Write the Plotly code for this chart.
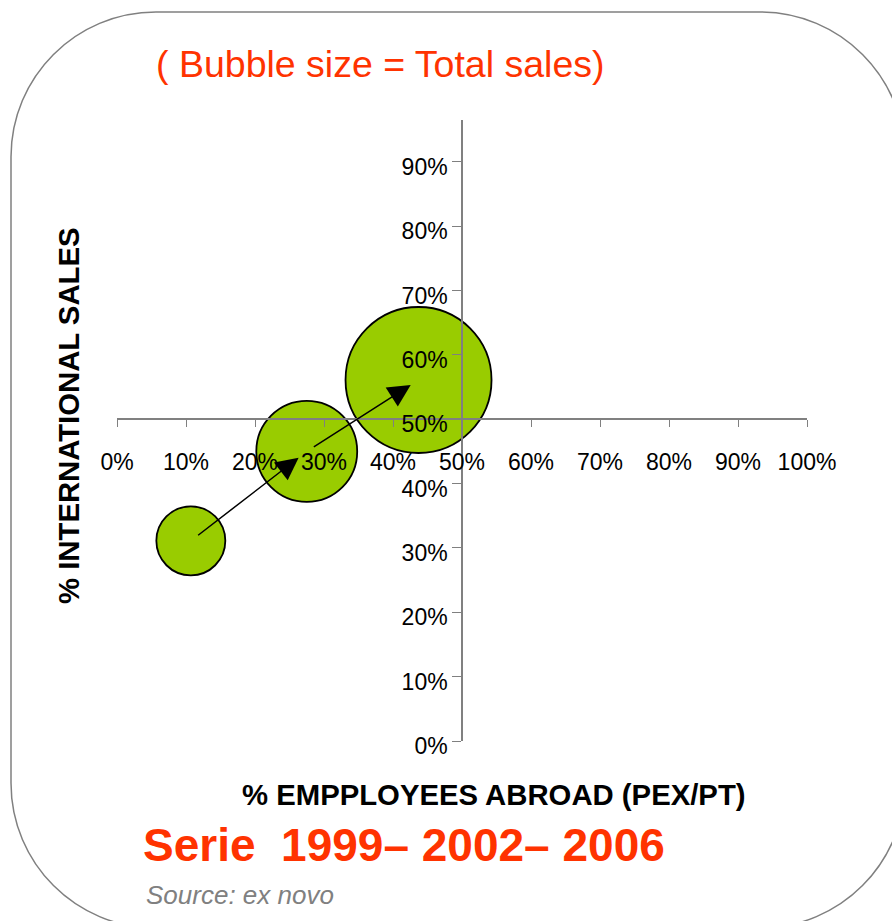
import plotly.graph_objects as go

# Bubble chart data: 1999, 2002, 2006
years = ["1999", "2002", "2006"]
employees_abroad = [10.7, 27.5, 43.7]      # % employees abroad (PEX/PT)
international_sales = [31.1, 45.0, 56.1]   # % international sales
total_sales = [100, 214, 448]              # bubble size = total sales

x_ticks = list(range(0, 101, 10))
x_tick_labels = [f"{v}%" for v in x_ticks]
y_ticks = list(range(0, 91, 10))
y_tick_labels = [f"{v}%" for v in y_ticks]

W, H = 892, 921
L, R, T, B = 117, 85, 120, 180
PW, PH = W - L - R, H - T - B
Y_MAX = 96.5


def pxx(px):
    return (px - L) / PW


def pxy(py):
    return (H - B - py) / PH


FONT = "Liberation Sans, Arial, sans-serif"
RED = "#FF3300"
GREY = "#808080"

fig = go.Figure()

fig.add_trace(go.Scatter(
    x=employees_abroad,
    y=international_sales,
    mode="markers",
    marker=dict(
        size=total_sales,
        sizemode="area",
        sizeref=2.0 * max(total_sales) / (146 ** 2),
        color="#99CC00",
        line=dict(color="black", width=1.8),
        opacity=1,
    ),
    text=years,
    hoverinfo="text",
    showlegend=False,
))

# arrows joining consecutive years
annotations = []
for i in range(len(years) - 1):
    x0, y0 = employees_abroad[i], international_sales[i]
    dx = employees_abroad[i + 1] - x0
    dy = international_sales[i + 1] - y0
    annotations.append(dict(
        x=x0 + 0.93 * dx, y=y0 + 0.93 * dy,
        ax=x0 + 0.05 * dx, ay=y0 + 0.05 * dy,
        xref="x", yref="y", axref="x", ayref="y",
        text="", showarrow=True,
        arrowhead=2, arrowsize=3, arrowwidth=1.5, arrowcolor="black",
    ))

annotations += [
    dict(text="( Bubble size = Total sales)", x=pxx(154), y=pxy(64),
         xref="paper", yref="paper", xanchor="left", yanchor="middle",
         showarrow=False, font=dict(family=FONT, size=37.5, color=RED)),
    dict(text="<b>% INTERNATIONAL SALES</b>", x=pxx(68), y=pxy(416),
         xref="paper", yref="paper", xanchor="center", yanchor="middle",
         textangle=-90, showarrow=False,
         font=dict(family=FONT, size=29.3, color="black")),
    dict(text="<b>% EMPPLOYEES ABROAD (PEX/PT)</b>", x=pxx(494), y=pxy(794),
         xref="paper", yref="paper", xanchor="center", yanchor="middle",
         showarrow=False, font=dict(family=FONT, size=29.3, color="black")),
    dict(text="<b>Serie&nbsp; 1999– 2002– 2006</b>", x=pxx(141), y=pxy(845),
         xref="paper", yref="paper", xanchor="left", yanchor="middle",
         showarrow=False, font=dict(family=FONT, size=46, color=RED)),
    dict(text="<i>Source: ex novo</i>", x=pxx(144), y=pxy(895),
         xref="paper", yref="paper", xanchor="left", yanchor="middle",
         showarrow=False, font=dict(family=FONT, size=26, color=GREY)),
]

# rounded frame around the slide content
fl, ft, fr, fb, rad = 11, 12, 905, 928, 145
k = 0.5523 * rad


def P(px, py):
    return f"{pxx(px):.5f},{pxy(py):.5f}"


frame_path = (
    f"M {P(fl + rad, ft)} L {P(fr - rad, ft)} "
    f"C {P(fr - rad + k, ft)} {P(fr, ft + rad - k)} {P(fr, ft + rad)} "
    f"L {P(fr, fb - rad)} "
    f"C {P(fr, fb - rad + k)} {P(fr - rad + k, fb)} {P(fr - rad, fb)} "
    f"L {P(fl + rad, fb)} "
    f"C {P(fl + rad - k, fb)} {P(fl, fb - rad + k)} {P(fl, fb - rad)} "
    f"L {P(fl, ft + rad)} "
    f"C {P(fl, ft + rad - k)} {P(fl + rad - k, ft)} {P(fl + rad, ft)} Z"
)

fig.update_layout(
    width=W, height=H,
    margin=dict(l=L, r=R, t=T, b=B),
    paper_bgcolor="white", plot_bgcolor="white",
    font=dict(family=FONT, size=23, color="black"),
    annotations=annotations,
    shapes=[dict(type="path", path=frame_path, xref="paper", yref="paper",
                 line=dict(color=GREY, width=1.5), layer="below")],
    xaxis=dict(
        range=[0, 100], anchor="free", position=50 / Y_MAX,
        showline=True, linecolor=GREY, linewidth=1.5,
        ticks="outside", ticklen=7, tickcolor=GREY, tickwidth=1.2,
        tickvals=x_ticks, ticktext=x_tick_labels,
        tickfont=dict(size=23), ticklabelstandoff=15,
        showgrid=False, zeroline=False,
    ),
    yaxis=dict(
        range=[0, Y_MAX], anchor="free", position=0.5,
        showline=True, linecolor=GREY, linewidth=1.5,
        ticks="outside", ticklen=9, tickcolor=GREY, tickwidth=1.2,
        tickvals=y_ticks, ticktext=y_tick_labels,
        tickfont=dict(size=23), ticklabelstandoff=0, ticklabelshift=5,
        showgrid=False, zeroline=False,
    ),
)

fig.write_html("out.html")
